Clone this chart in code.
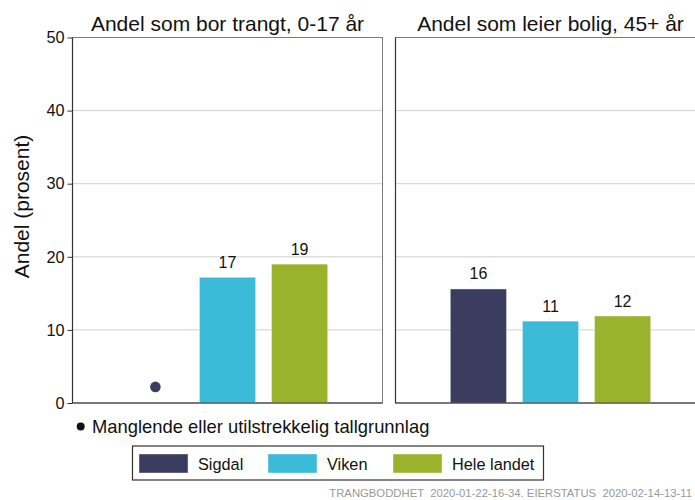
<!DOCTYPE html>
<html>
<head>
<meta charset="utf-8">
<script src="https://cdn.jsdelivr.net/npm/d3@7"></script>
<style>
  body { margin: 0; background: #fff; }
  svg { display: block; font-family: "Liberation Sans", Arial, sans-serif; }
</style>
</head>
<body>
<svg></svg>
<script>
const panels = ["Andel som bor trangt, 0-17 år", "Andel som leier bolig, 45+ år"];
const categories = ["Sigdal", "Viken", "Hele landet"];
// null = manglende tallgrunnlag
const trangt = [null, 17.2, 19.0];
const leier = [15.6, 11.2, 11.9];
const labelsTrangt = ["", "17", "19"];
const labelsLeier = ["16", "11", "12"];
const yTicks = [0, 10, 20, 30, 40, 50];
const colors = ["#3a3d5f", "#3bbbd7", "#9bb32b"];
const missingY = 2.2;

const svgWidth = 695;
const svgHeight = 500;

const svg = d3
  .select("svg")
  .attr("width", svgWidth)
  .attr("height", svgHeight);

const plotTop = 37.5;
const plotBottom = 403;
const panelWidth = 310;
const panelLeft = [72.5, 395.5];

const yScale = d3
  .scaleLinear()
  .domain([0, 50])
  .range([plotBottom, plotTop]);

const series = [trangt, leier];
const labels = [labelsTrangt, labelsLeier];

panels.forEach((title, p) => {
  const x0 = panelLeft[p];
  const xScale = d3
    .scaleBand()
    .domain(categories)
    .range([x0, x0 + panelWidth])
    .paddingInner(0.22)
    .paddingOuter(0.76);

  const g = svg.append("g");

  // gridlines
  g.selectAll("line.grid")
    .data(yTicks.filter(d => d > 0 && d < 50))
    .enter()
    .append("line")
    .attr("x1", x0)
    .attr("x2", x0 + panelWidth)
    .attr("y1", d => yScale(d))
    .attr("y2", d => yScale(d))
    .attr("stroke", "#d0d0d0")
    .attr("stroke-width", 1);

  // panel border
  g.append("rect")
    .attr("x", x0)
    .attr("y", plotTop)
    .attr("width", panelWidth)
    .attr("height", plotBottom - plotTop)
    .attr("fill", "none")
    .attr("stroke", "#7a7a7a")
    .attr("stroke-width", 1);

  const data = categories.map((c, i) => ({ c: c, v: series[p][i], label: labels[p][i], color: colors[i] }));

  g.selectAll("rect.bar")
    .data(data.filter(d => d.v !== null))
    .enter()
    .append("rect")
    .attr("x", d => xScale(d.c))
    .attr("y", d => yScale(d.v))
    .attr("width", xScale.bandwidth())
    .attr("height", d => plotBottom - yScale(d.v))
    .attr("fill", d => d.color)
    .attr("stroke", "#ffffff")
    .attr("stroke-opacity", 0.5)
    .attr("stroke-width", 0.8);

  g.selectAll("text.val")
    .data(data.filter(d => d.v !== null))
    .enter()
    .append("text")
    .attr("x", d => xScale(d.c) + xScale.bandwidth() / 2)
    .attr("y", d => yScale(d.v) - 9.5)
    .attr("text-anchor", "middle")
    .attr("font-size", 16)
    .attr("fill", "#111")
    .text(d => d.label);

  // missing values as dot
  g.selectAll("circle.missing")
    .data(data.filter(d => d.v === null))
    .enter()
    .append("circle")
    .attr("cx", d => xScale(d.c) + xScale.bandwidth() / 2)
    .attr("cy", yScale(missingY))
    .attr("r", 5.3)
    .attr("fill", d => d.color);

  // left + bottom axis lines
  g.append("line")
    .attr("x1", x0).attr("x2", x0)
    .attr("y1", plotTop).attr("y2", plotBottom)
    .attr("stroke", "#333").attr("stroke-width", 1.2);
  g.append("line")
    .attr("x1", x0).attr("x2", x0 + panelWidth)
    .attr("y1", plotBottom).attr("y2", plotBottom)
    .attr("stroke", "#333").attr("stroke-width", 1.2);

  g.append("text")
    .attr("x", x0 + panelWidth / 2)
    .attr("y", 30.5)
    .attr("text-anchor", "middle")
    .attr("font-size", 21)
    .attr("fill", "#111")
    .text(title);
});

// y axis
const y_axis = d3
  .axisLeft()
  .scale(yScale)
  .tickValues(yTicks)
  .tickSize(5)
  .tickPadding(3);

const yAxisG = svg
  .append("g")
  .attr("transform", "translate(" + panelLeft[0] + ",0)")
  .call(y_axis);

yAxisG.select(".domain").remove();
yAxisG.selectAll(".tick line").attr("stroke", "#333");
yAxisG.selectAll(".tick text")
  .attr("font-size", 16.3)
  .attr("fill", "#111")
  .attr("font-family", "Liberation Sans, Arial, sans-serif");

svg
  .append("text")
  .attr("transform", "translate(28.5,206.5) rotate(-90)")
  .attr("text-anchor", "middle")
  .attr("font-size", 21)
  .attr("fill", "#111")
  .text("Andel (prosent)");

// note
svg.append("circle")
  .attr("cx", 80.7)
  .attr("cy", 426.5)
  .attr("r", 4)
  .attr("fill", "#111");
svg.append("text")
  .attr("x", 92)
  .attr("y", 432.5)
  .attr("font-size", 18.4)
  .attr("fill", "#111")
  .text("Manglende eller utilstrekkelig tallgrunnlag");

// legend
const legendX = [139, 268, 393];
const legend = svg.append("g");
legend.append("rect")
  .attr("x", 132.5)
  .attr("y", 446)
  .attr("width", 411)
  .attr("height", 34)
  .attr("fill", "#fff")
  .attr("stroke", "#333")
  .attr("stroke-width", 1.2);

legend.selectAll("rect.key")
  .data(categories)
  .enter()
  .append("rect")
  .attr("x", (d, i) => legendX[i])
  .attr("y", 454)
  .attr("width", 49)
  .attr("height", 19)
  .attr("fill", (d, i) => colors[i])
  .attr("stroke", "#ffffff")
  .attr("stroke-opacity", 0.5)
  .attr("stroke-width", 0.8);

legend.selectAll("text.key")
  .data(categories)
  .enter()
  .append("text")
  .attr("x", (d, i) => legendX[i] + 59)
  .attr("y", 469.5)
  .attr("font-size", 16.3)
  .attr("fill", "#111")
  .text(d => d);

// footer
svg.append("text")
  .attr("x", 692)
  .attr("y", 497)
  .attr("text-anchor", "end")
  .attr("font-size", 11.3)
  .attr("fill", "#9a9a9a")
  .style("white-space", "pre")
  .text("TRANGBODDHET  2020-01-22-16-34. EIERSTATUS  2020-02-14-13-11");
</script>
</body>
</html>
